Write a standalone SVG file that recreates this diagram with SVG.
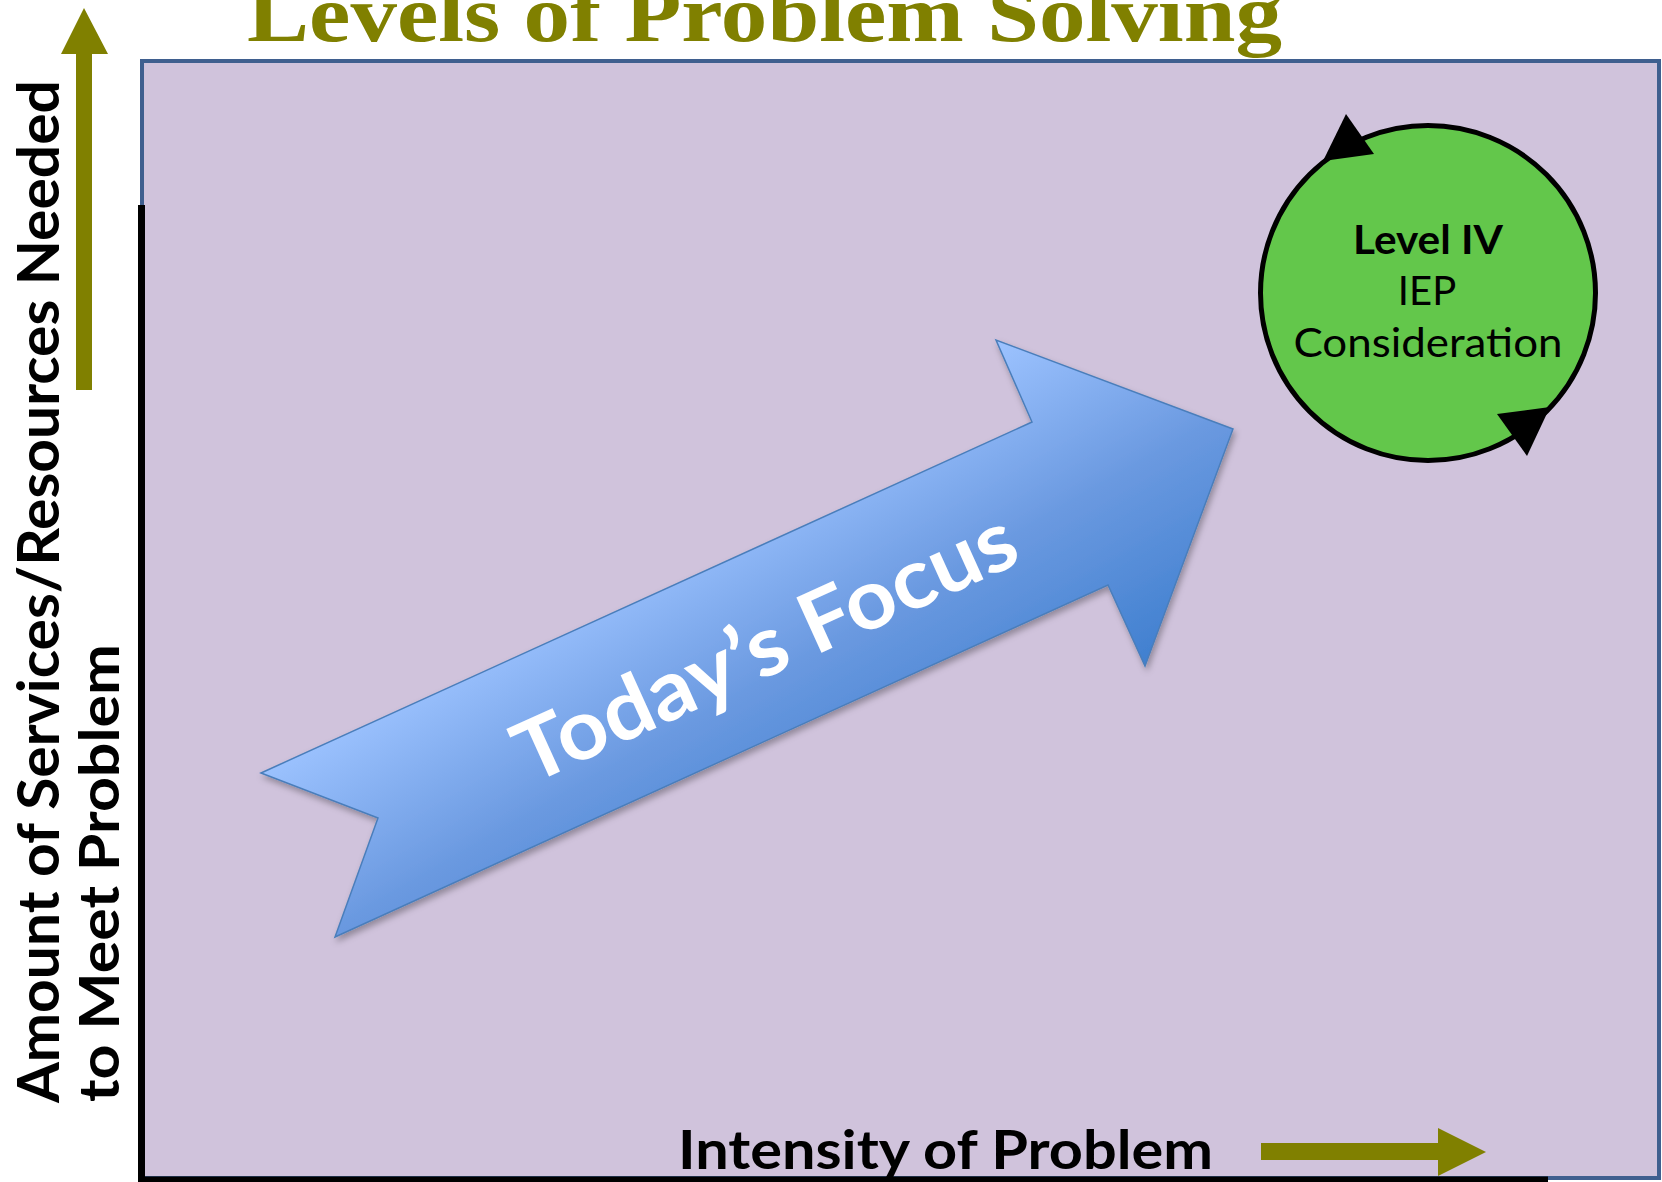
<svg xmlns="http://www.w3.org/2000/svg" width="1662" height="1182" viewBox="0 0 1662 1182">
  <style>
    .olive { fill: #808000; }
    .axislbl { font-family: Lato, "Liberation Sans", sans-serif; font-weight: bold; fill: #000000; }
    .circ { font-family: Lato, "Liberation Sans", sans-serif; fill: #000000; text-anchor: middle; }
  </style>
  <defs>
    <linearGradient id="blueGrad" gradientUnits="userSpaceOnUse" x1="630" y1="552" x2="810" y2="864">
      <stop offset="0" stop-color="#9DC3FF"/>
      <stop offset="0.5" stop-color="#6A99E0"/>
      <stop offset="1" stop-color="#3F7FCF"/>
    </linearGradient>
    <filter id="shadow" x="-10%" y="-10%" width="120%" height="130%">
      <feDropShadow dx="2" dy="4" stdDeviation="3" flood-color="#000000" flood-opacity="0.3"/>
    </filter>
  </defs>

  <rect width="1662" height="1182" fill="#FFFFFF"/>

  <g id="title">
    <text x="247" y="41" font-family="'Liberation Serif', serif" font-weight="bold" font-size="80" fill="#808000" textLength="1035" lengthAdjust="spacingAndGlyphs">Levels of Problem Solving</text>
  </g>

  <g id="plot-area">
    <rect x="142" y="61" width="1517" height="1117" fill="#D0C3DC" stroke="#3F5F8F" stroke-width="4"/>
    <line x1="141.5" y1="205" x2="141.5" y2="1180" stroke="#000000" stroke-width="7"/>
    <line x1="138" y1="1179.5" x2="1548" y2="1179.5" stroke="#000000" stroke-width="6"/>
  </g>

  <g id="y-axis-label">
    <text class="axislbl" font-size="58" transform="translate(59,1103) rotate(-90)" textLength="1023" lengthAdjust="spacingAndGlyphs">Amount of Services/Resources Needed</text>
    <text class="axislbl" font-size="56" transform="translate(119,1102) rotate(-90)" textLength="458" lengthAdjust="spacingAndGlyphs">to Meet Problem</text>
  </g>

  <g id="x-axis-label">
    <text class="axislbl" x="678" y="1169" font-size="54" textLength="535" lengthAdjust="spacingAndGlyphs">Intensity of Problem</text>
  </g>

  <g id="connectors">
    <polygon id="y-arrow" class="olive" points="76,390 76,54 61,54 84,8 108,54 92,54 92,390"/>
    <polygon id="x-arrow" class="olive" points="1261,1143 1438,1143 1438,1128 1486,1152 1438,1176 1438,1160 1261,1160"/>
  </g>

  <g id="todays-focus">
    <polygon points="261,773 378,818 335,937 1108,585 1145,666 1233,429 996,340 1032,422" fill="url(#blueGrad)" stroke="#4A7EBB" stroke-width="1.5" filter="url(#shadow)"/>
    <text transform="translate(777,673) rotate(-24.4)" text-anchor="middle" font-family="Lato, 'Liberation Sans', sans-serif" font-weight="bold" font-size="84" fill="#FFFFFF" textLength="542" lengthAdjust="spacingAndGlyphs">Today’s Focus</text>
  </g>

  <g id="level-iv">
    <circle cx="1428" cy="293" r="167.5" fill="#63C74B" stroke="#000000" stroke-width="5"/>
    <polygon points="1346,114 1323,161 1374,154" fill="#000000"/>
    <polygon points="1497,414 1550,407 1527,456" fill="#000000"/>
    <text class="circ" x="1428" y="254" font-size="40" font-weight="bold" textLength="150" lengthAdjust="spacingAndGlyphs">Level IV</text>
    <text class="circ" x="1427" y="305" font-size="40">IEP</text>
    <text class="circ" x="1428" y="357" font-size="40" textLength="269" lengthAdjust="spacingAndGlyphs">Consideration</text>
  </g>
</svg>
